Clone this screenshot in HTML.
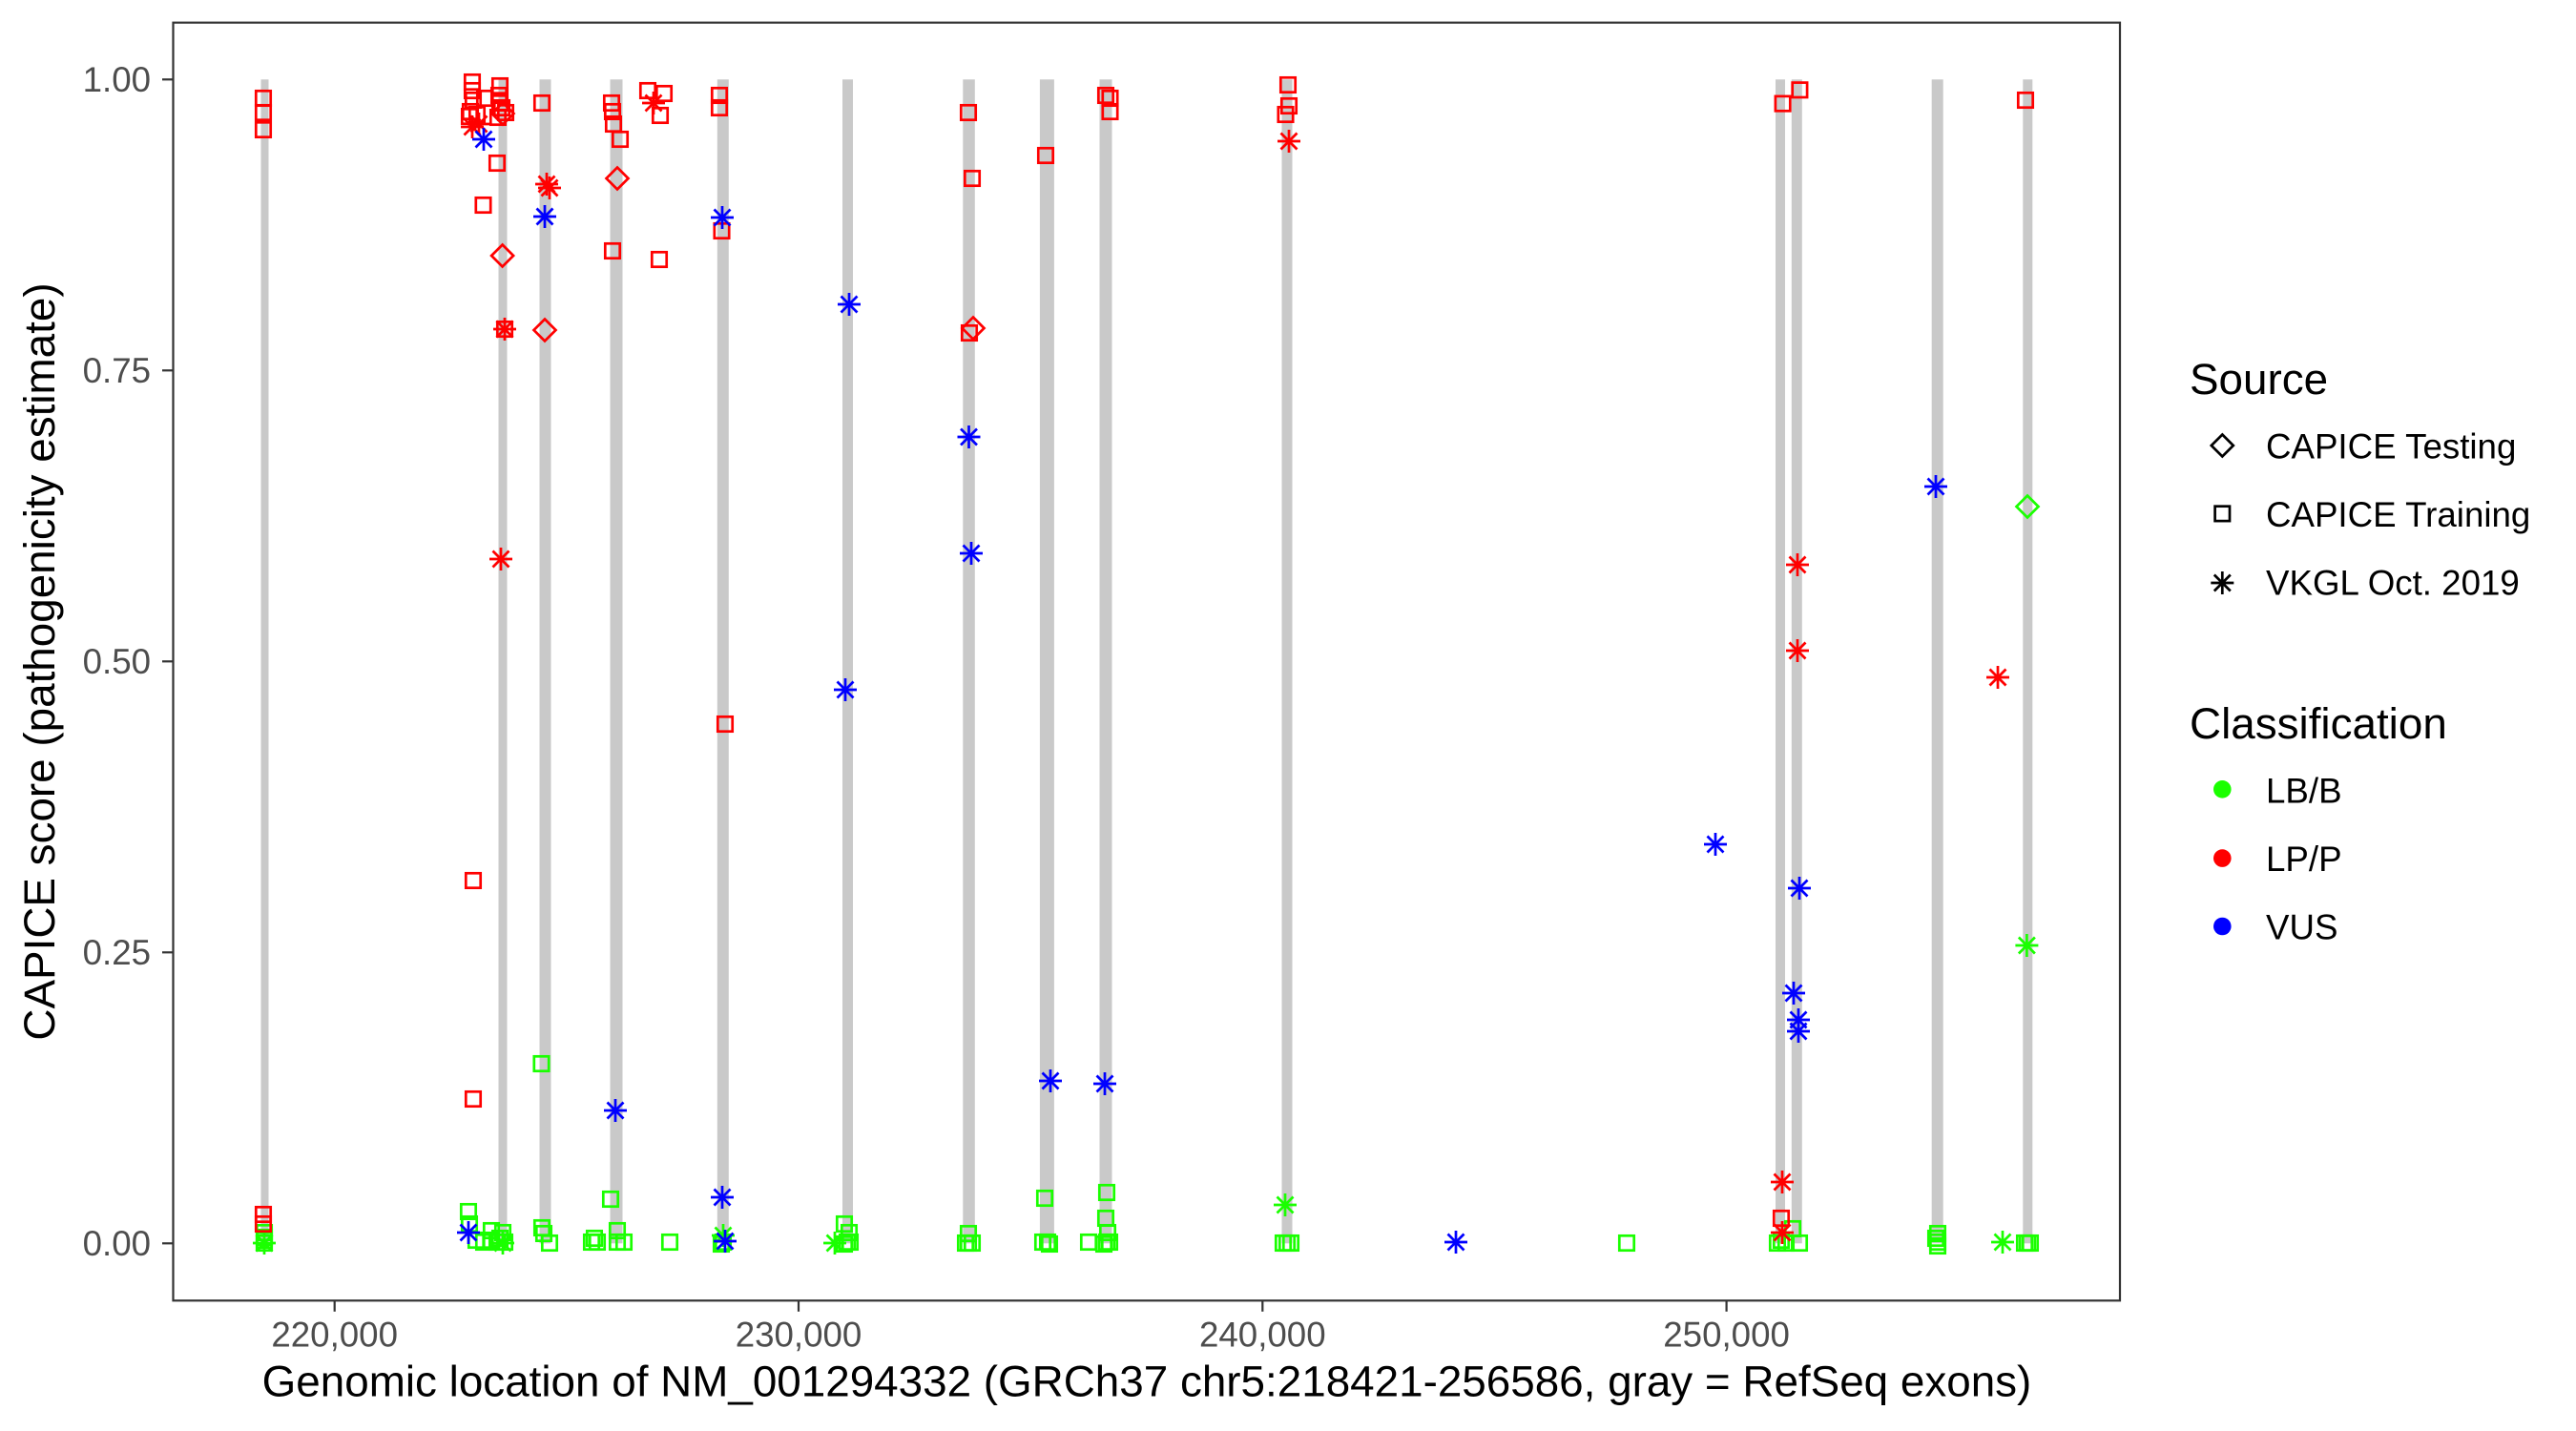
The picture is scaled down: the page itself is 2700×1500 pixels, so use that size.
<!DOCTYPE html>
<html>
<head>
<meta charset="utf-8">
<style>
html,body{margin:0;padding:0;background:#fff;}
svg{display:block;}
text{font-family:"Liberation Sans",Arial,sans-serif;}
</style>
</head>
<body>
<svg width="2700" height="1500" viewBox="0 0 2700 1500" xmlns="http://www.w3.org/2000/svg">
<defs>
<g id="s"><rect x="-7.7" y="-7.7" width="15.4" height="15.4"/></g>
<g id="d"><path d="M0,-11.5L11.5,0L0,11.5L-11.5,0Z"/></g>
<g id="a"><path d="M0,-12V12M-12,0H12M-8.5,-8.5L8.5,8.5M-8.5,8.5L8.5,-8.5"/></g>
</defs>
<rect x="0" y="0" width="2700" height="1500" fill="#fff"/>

<!-- exon bars -->
<g fill="#C9C9C9">
<rect x="273.5" y="83.3" width="8" height="1220"/>
<rect x="522.5" y="83.3" width="9" height="1220"/>
<rect x="565.5" y="83.3" width="12" height="1220"/>
<rect x="639.5" y="83.3" width="13" height="1220"/>
<rect x="751.8" y="83.3" width="12" height="1220"/>
<rect x="883" y="83.3" width="11" height="1220"/>
<rect x="1009.3" y="83.3" width="12.5" height="1220"/>
<rect x="1089.9" y="83.3" width="15" height="1220"/>
<rect x="1152.5" y="83.3" width="13" height="1220"/>
<rect x="1343.5" y="83.3" width="11" height="1220"/>
<rect x="1861" y="83.3" width="10" height="1220"/>
<rect x="1877.8" y="83.3" width="11" height="1220"/>
<rect x="2024.7" y="83.3" width="12" height="1220"/>
<rect x="2120.3" y="83.3" width="10" height="1220"/>
</g>

<!-- green points -->
<g fill="none" stroke="#1AFF00" stroke-width="2.7">
<use href="#s" x="277" y="1292"/><use href="#s" x="277" y="1300"/><use href="#s" x="277" y="1303"/><use href="#s" x="277" y="1297"/>
<use href="#s" x="491" y="1270"/><use href="#s" x="492" y="1283"/><use href="#s" x="499" y="1300"/><use href="#s" x="515" y="1290"/><use href="#s" x="515" y="1300"/><use href="#s" x="527" y="1292"/><use href="#s" x="529" y="1302"/><use href="#s" x="521" y="1302"/><use href="#s" x="507" y="1302"/><use href="#s" x="524" y="1298"/>
<use href="#s" x="568" y="1287"/><use href="#s" x="570" y="1293"/><use href="#s" x="576" y="1303"/><use href="#s" x="567.5" y="1115"/>
<use href="#s" x="640" y="1257"/><use href="#s" x="647" y="1290"/><use href="#s" x="620" y="1302"/><use href="#s" x="626" y="1302"/><use href="#s" x="647" y="1302"/><use href="#s" x="654" y="1302"/><use href="#s" x="623" y="1298"/>
<use href="#s" x="702" y="1302"/><use href="#s" x="758" y="1302"/><use href="#s" x="756" y="1304"/>
<use href="#s" x="885" y="1283"/><use href="#s" x="890" y="1292"/><use href="#s" x="888" y="1302"/><use href="#s" x="891" y="1302"/><use href="#s" x="885" y="1304"/>
<use href="#s" x="1015" y="1293"/><use href="#s" x="1015" y="1303"/><use href="#s" x="1012" y="1303"/><use href="#s" x="1019" y="1303"/>
<use href="#s" x="1095" y="1256"/><use href="#s" x="1098" y="1302"/><use href="#s" x="1093" y="1302"/><use href="#s" x="1100" y="1304"/>
<use href="#s" x="1160" y="1250"/><use href="#s" x="1159" y="1277"/><use href="#s" x="1161" y="1292"/><use href="#s" x="1160" y="1302"/><use href="#s" x="1141" y="1302"/><use href="#s" x="1163" y="1302"/><use href="#s" x="1157" y="1304"/>
<use href="#s" x="1349" y="1303"/><use href="#s" x="1353" y="1303"/><use href="#s" x="1345" y="1303"/>
<use href="#s" x="1705" y="1303"/>
<use href="#s" x="1863" y="1303"/><use href="#s" x="1879" y="1288"/><use href="#s" x="1886" y="1303"/><use href="#s" x="1872" y="1303"/><use href="#s" x="1867" y="1300"/>
<use href="#s" x="2031" y="1293"/><use href="#s" x="2031" y="1302"/><use href="#s" x="2031" y="1306"/><use href="#s" x="2029" y="1298"/>
<use href="#s" x="2125" y="1303"/><use href="#s" x="2128" y="1303"/><use href="#s" x="2122" y="1303"/>
<use href="#d" x="2125" y="531"/>
<use href="#a" x="277" y="1303"/><use href="#a" x="527" y="1303"/><use href="#a" x="758" y="1295"/><use href="#a" x="875" y="1303"/><use href="#a" x="1347" y="1263"/><use href="#a" x="2099" y="1302"/><use href="#a" x="2124.4" y="991"/>
</g>

<!-- red points -->
<g fill="none" stroke="#FF0000" stroke-width="2.7">
<use href="#s" x="276" y="103"/><use href="#s" x="276" y="118"/><use href="#s" x="276" y="136"/><use href="#s" x="276" y="1273"/><use href="#s" x="276" y="1283"/>
<use href="#s" x="495" y="86"/><use href="#s" x="495" y="95"/><use href="#s" x="496" y="105"/><use href="#s" x="493" y="117"/><use href="#s" x="492" y="122"/><use href="#s" x="500" y="120"/><use href="#s" x="508" y="103"/>
<use href="#s" x="524" y="90"/><use href="#s" x="523" y="100"/><use href="#s" x="524" y="108"/><use href="#s" x="530" y="118"/><use href="#s" x="522" y="123"/><use href="#s" x="526" y="113"/>
<use href="#s" x="521" y="171"/><use href="#s" x="506.5" y="215"/><use href="#s" x="529" y="345"/><use href="#s" x="496" y="923"/><use href="#s" x="496" y="1152"/>
<use href="#s" x="568" y="108"/>
<use href="#s" x="641" y="108"/><use href="#s" x="642" y="117"/><use href="#s" x="643" y="130"/><use href="#s" x="650" y="146"/><use href="#s" x="642" y="263"/>
<use href="#s" x="679" y="95"/><use href="#s" x="696" y="98"/><use href="#s" x="692" y="121"/><use href="#s" x="691" y="272"/>
<use href="#s" x="754" y="100"/><use href="#s" x="754" y="113"/><use href="#s" x="756.5" y="242"/><use href="#s" x="760" y="759"/>
<use href="#s" x="1015" y="118"/><use href="#s" x="1019" y="187"/><use href="#s" x="1016" y="349"/>
<use href="#s" x="1096" y="163"/>
<use href="#s" x="1159" y="100"/><use href="#s" x="1163.5" y="103"/><use href="#s" x="1163.5" y="117"/>
<use href="#s" x="1350" y="89"/><use href="#s" x="1351" y="111"/><use href="#s" x="1347.5" y="120"/>
<use href="#s" x="1868.6" y="108.6"/><use href="#s" x="1886.4" y="94.3"/><use href="#s" x="1867" y="1277"/>
<use href="#s" x="2123" y="105"/>
<use href="#d" x="527" y="119"/><use href="#d" x="526.6" y="268"/><use href="#d" x="571" y="346"/><use href="#d" x="647" y="187"/><use href="#d" x="1020" y="344"/>
<use href="#a" x="495" y="133"/><use href="#a" x="502" y="130"/><use href="#a" x="529" y="345"/><use href="#a" x="525" y="586"/><use href="#a" x="573" y="193"/><use href="#a" x="576" y="197"/><use href="#a" x="685" y="108"/><use href="#a" x="1351" y="148"/><use href="#a" x="1884" y="592"/><use href="#a" x="1884" y="682"/><use href="#a" x="1868" y="1239"/><use href="#a" x="1868" y="1292"/><use href="#a" x="2094" y="710"/>
</g>

<!-- blue points -->
<g fill="none" stroke="#0000FF" stroke-width="2.7">
<use href="#a" x="507" y="146"/><use href="#a" x="571" y="227"/><use href="#a" x="645" y="1164"/><use href="#a" x="757" y="228"/><use href="#a" x="757" y="1255"/><use href="#a" x="760" y="1301"/><use href="#a" x="890" y="319"/><use href="#a" x="886" y="723"/><use href="#a" x="1015.5" y="458"/><use href="#a" x="1018" y="580"/><use href="#a" x="1101" y="1133"/><use href="#a" x="1158" y="1136"/><use href="#a" x="1526" y="1302"/><use href="#a" x="1798" y="885"/><use href="#a" x="1886" y="931"/><use href="#a" x="1880" y="1041"/><use href="#a" x="1885" y="1069"/><use href="#a" x="1885" y="1081"/><use href="#a" x="2029" y="510"/><use href="#a" x="491" y="1292"/>
</g>

<!-- panel border -->
<rect x="181.5" y="23.7" width="2040.5" height="1339.6" fill="none" stroke="#333333" stroke-width="2.2"/>

<!-- y ticks -->
<g stroke="#333333" stroke-width="2.2">
<line x1="170" y1="83.3" x2="181.5" y2="83.3"/>
<line x1="170" y1="388.3" x2="181.5" y2="388.3"/>
<line x1="170" y1="693.3" x2="181.5" y2="693.3"/>
<line x1="170" y1="998.3" x2="181.5" y2="998.3"/>
<line x1="170" y1="1303.3" x2="181.5" y2="1303.3"/>
<line x1="350.7" y1="1363.3" x2="350.7" y2="1374.8"/>
<line x1="837" y1="1363.3" x2="837" y2="1374.8"/>
<line x1="1323.3" y1="1363.3" x2="1323.3" y2="1374.8"/>
<line x1="1809.6" y1="1363.3" x2="1809.6" y2="1374.8"/>
</g>
<g fill="#4D4D4D" font-size="36.7" text-anchor="end">
<text x="158" y="96">1.00</text>
<text x="158" y="401">0.75</text>
<text x="158" y="706">0.50</text>
<text x="158" y="1011">0.25</text>
<text x="158" y="1316">0.00</text>
</g>
<g fill="#4D4D4D" font-size="36.7" text-anchor="middle">
<text x="350.7" y="1411.7">220,000</text>
<text x="837" y="1411.7">230,000</text>
<text x="1323.3" y="1411.7">240,000</text>
<text x="1809.6" y="1411.7">250,000</text>
</g>

<!-- axis titles -->
<text x="1202" y="1463.5" font-size="45.8" text-anchor="middle" fill="#000">Genomic location of NM_001294332 (GRCh37 chr5:218421-256586, gray = RefSeq exons)</text>
<text transform="translate(57,693.5) rotate(-90)" font-size="45.8" text-anchor="middle" fill="#000">CAPICE score (pathogenicity estimate)</text>

<!-- legend -->
<text x="2295" y="413" font-size="45.8" fill="#000">Source</text>
<g fill="none" stroke="#000" stroke-width="2.7">
<use href="#d" x="2329.3" y="467"/>
<use href="#s" x="2329.3" y="538.4"/>
<use href="#a" x="2329.3" y="611"/>
</g>
<g font-size="36.7" fill="#000">
<text x="2375" y="480.4">CAPICE Testing</text>
<text x="2375" y="551.8">CAPICE Training</text>
<text x="2375" y="623.3">VKGL Oct. 2019</text>
</g>
<text x="2295" y="774" font-size="45.8" fill="#000">Classification</text>
<circle cx="2329.3" cy="827.3" r="9.3" fill="#1AFF00"/>
<circle cx="2329.3" cy="899.6" r="9.3" fill="#FF0000"/>
<circle cx="2329.3" cy="971" r="9.3" fill="#0000FF"/>
<g font-size="36.7" fill="#000">
<text x="2375" y="841.6">LB/B</text>
<text x="2375" y="913">LP/P</text>
<text x="2375" y="984.5">VUS</text>
</g>
</svg>
</body>
</html>
